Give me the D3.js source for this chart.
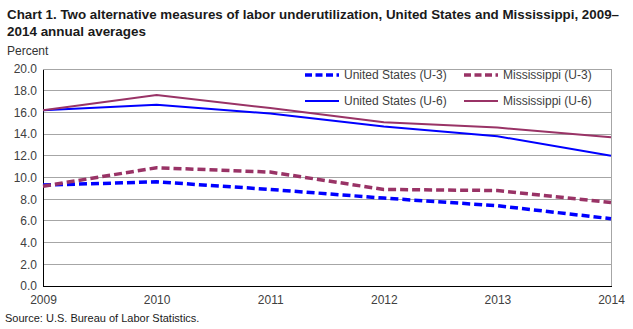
<!DOCTYPE html>
<html>
<head>
<meta charset="utf-8">
<script src="https://cdn.jsdelivr.net/npm/d3@7/dist/d3.min.js"></script>
<style>
  body { margin: 0; background: #fff; }
  svg { display: block; font-family: "Liberation Sans", Arial, sans-serif; }
</style>
</head>
<body>
<svg id="chart" width="633" height="329"></svg>
<script>
// data
var years = [2009, 2010, 2011, 2012, 2013, 2014];
var usU3 = [9.3, 9.6, 8.9, 8.1, 7.4, 6.2];
var msU3 = [9.2, 10.9, 10.5, 8.9, 8.8, 7.7];
var usU6 = [16.2, 16.7, 15.9, 14.7, 13.8, 12.0];
var msU6 = [16.2, 17.6, 16.4, 15.1, 14.6, 13.7];
var yTicks = [0, 2, 4, 6, 8, 10, 12, 14, 16, 18, 20];

var series = [
  {name: "United States (U-3)", values: usU3, color: "#0000ff", dash: true},
  {name: "Mississippi (U-3)", values: msU3, color: "#993366", dash: true},
  {name: "United States (U-6)", values: usU6, color: "#0000ff", dash: false},
  {name: "Mississippi (U-6)", values: msU6, color: "#993366", dash: false}
];

var margin = {top: 69, right: 22, bottom: 43, left: 43};
var width = 633 - margin.left - margin.right;
var height = 329 - margin.top - margin.bottom;

var svg = d3.select("#chart");

// title
svg.append("text")
  .attr("x", 7).attr("y", 19)
  .attr("font-size", 13).attr("font-weight", "bold").attr("fill", "#1a1a1a")
  .attr("textLength", 612).attr("lengthAdjust", "spacingAndGlyphs")
  .text("Chart 1. Two alternative measures of labor underutilization, United States and Mississippi,  2009\u2013");
svg.append("text")
  .attr("x", 7).attr("y", 36)
  .attr("font-size", 13).attr("font-weight", "bold").attr("fill", "#1a1a1a")
  .attr("textLength", 139).attr("lengthAdjust", "spacingAndGlyphs")
  .text("2014 annual averages");

svg.append("text")
  .attr("x", 7).attr("y", 55)
  .attr("font-size", 12).attr("fill", "#333")
  .text("Percent");

var x = d3.scaleLinear().domain([2009, 2014]).range([0, width]);
var y = d3.scaleLinear().domain([0, 20]).range([height, 0]);

var g = svg.append("g")
  .attr("transform", "translate(" + margin.left + "," + margin.top + ")");

// grid lines
g.append("g")
  .selectAll("line")
  .data(yTicks.slice(1))
  .enter().append("line")
  .attr("x1", 0).attr("x2", width)
  .attr("y1", function(d) { return y(d); })
  .attr("y2", function(d) { return y(d); })
  .attr("stroke", "#a6a6a6").attr("stroke-width", 1)
  .attr("shape-rendering", "crispEdges");

// right border of plot area
g.append("line")
  .attr("x1", width).attr("x2", width)
  .attr("y1", 0).attr("y2", height)
  .attr("stroke", "#a6a6a6").attr("shape-rendering", "crispEdges");

// y axis
var yAxis = g.append("g")
  .call(d3.axisLeft(y).tickValues(yTicks).tickSize(0).tickPadding(6)
    .tickFormat(d3.format(".1f")));
yAxis.select(".domain").attr("stroke", "#000").attr("shape-rendering", "crispEdges");
yAxis.selectAll("text").attr("font-size", 12).attr("fill", "#404040")
  .attr("font-family", "Liberation Sans, Arial, sans-serif");

// x axis
var xAxis = g.append("g")
  .attr("transform", "translate(0," + height + ")")
  .call(d3.axisBottom(x).tickValues(years).tickSize(0).tickPadding(9)
    .tickFormat(d3.format("d")));
xAxis.select(".domain").attr("stroke", "#000").attr("shape-rendering", "crispEdges");
xAxis.selectAll("text").attr("font-size", 12).attr("fill", "#404040")
  .attr("font-family", "Liberation Sans, Arial, sans-serif");

// lines
var line = d3.line()
  .x(function(d, i) { return x(years[i]); })
  .y(function(d) { return y(d); });

g.selectAll("path.series")
  .data(series)
  .enter().append("path")
  .attr("class", "series")
  .attr("fill", "none")
  .attr("stroke", function(d) { return d.color; })
  .attr("stroke-width", function(d) { return d.dash ? 3.5 : 2; })
  .attr("stroke-dasharray", function(d) { return d.dash ? "8,4" : null; })
  .attr("d", function(d) { return line(d.values); });

// legend
var legendPos = [[305, 75], [464, 75], [305, 101], [464, 101]];
var legend = svg.append("g");
var item = legend.selectAll("g")
  .data(series)
  .enter().append("g")
  .attr("transform", function(d, i) { return "translate(" + legendPos[i][0] + "," + legendPos[i][1] + ")"; });
item.append("line")
  .attr("x1", 0).attr("x2", 34)
  .attr("stroke", function(d) { return d.color; })
  .attr("stroke-width", function(d) { return d.dash ? 3.5 : 2; })
  .attr("stroke-dasharray", function(d) { return d.dash ? "7,3.5" : null; });
item.append("text")
  .attr("x", 39).attr("dy", "0.35em")
  .attr("font-size", 12).attr("fill", "#404040")
  .text(function(d) { return d.name; });

// source
svg.append("text")
  .attr("x", 5).attr("y", 322)
  .attr("font-size", 11).attr("fill", "#1a1a1a")
  .text("Source: U.S. Bureau of Labor Statistics.");
</script>
</body>
</html>
